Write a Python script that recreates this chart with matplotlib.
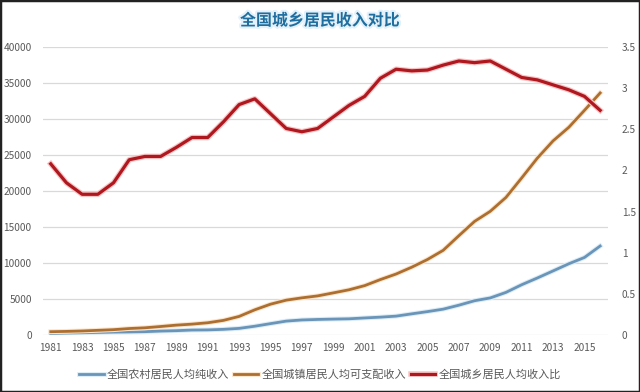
#!/usr/bin/env python3

import matplotlib
matplotlib.use("Agg")
from matplotlib import pyplot, ticker, patheffects, patches

pyplot.rcParams["font.family"] = ["Noto Sans CJK SC", "DejaVu Sans"]

# data
years = list(range(1981, 2017))
rural = [220, 270, 310, 355, 400, 425, 460, 545, 600, 690,
         710, 785, 920, 1220, 1580, 1930, 2090, 2160, 2210, 2250,
         2370, 2480, 2620, 2940, 3250, 3590, 4140, 4760, 5150, 5920,
         6980, 7920, 8900, 9890, 10770, 12360]
urban = [460, 500, 560, 650, 740, 900, 1000, 1180, 1370, 1510,
         1700, 2030, 2580, 3500, 4280, 4840, 5160, 5430, 5850, 6280,
         6860, 7700, 8470, 9420, 10490, 11760, 13790, 15780, 17180, 19110,
         21810, 24570, 26960, 28840, 31200, 33620]
ratio = [2.08, 1.85, 1.71, 1.71, 1.85, 2.13, 2.17, 2.17, 2.28, 2.40,
         2.40, 2.59, 2.80, 2.87, 2.69, 2.51, 2.47, 2.51, 2.65, 2.79,
         2.90, 3.12, 3.23, 3.21, 3.22, 3.28, 3.33, 3.31, 3.33, 3.23,
         3.13, 3.10, 3.04, 2.98, 2.90, 2.73]
names = ["全国农村居民人均纯收入", "全国城镇居民人均可支配收入", "全国城乡居民人均收入比"]

idx = list(range(len(years)))
grey = "#595959"

figure = pyplot.figure(figsize=(6.4, 3.92), dpi=100)
axis = figure.add_axes([0.067, 0.1454, 0.883, 0.7347])
axis2 = axis.twinx()

l1, = axis.plot(idx, rural, color="#6a95b8", lw=2.0)
l2, = axis.plot(idx, urban, color="#ad6f30", lw=2.0)
l3, = axis2.plot(idx, ratio, color="#b01820", lw=2.3,
                 path_effects=[patheffects.Stroke(linewidth=4, foreground="#f7c4c4"),
                               patheffects.Normal()])
for l, c in ((l1, "#dcedf7"), (l2, "#fbe5cd")):
    l.set_path_effects([patheffects.Stroke(linewidth=3.5, foreground=c),
                        patheffects.Normal()])

axis.set_xlim(-0.5, len(years) - 0.5)
axis.set_ylim(0, 40000)
axis2.set_ylim(0, 3.5)
axis.yaxis.set_major_locator(ticker.MultipleLocator(5000))
axis2.yaxis.set_major_locator(ticker.MultipleLocator(0.5))
axis2.yaxis.set_major_formatter(ticker.FuncFormatter(lambda v, p: f"{v:g}"))
axis.set_xticks(idx[::2])
axis.set_xticklabels([str(y) for y in years[::2]])

axis.grid(axis="y", color="#d9d9d9", lw=0.9)
axis.set_axisbelow(True)
for a in (axis, axis2):
    for s in a.spines.values():
        s.set_visible(False)
    a.tick_params(length=0, labelsize=7.3, colors=grey, pad=8)
axis.tick_params(axis="x", pad=6)
axis2.tick_params(pad=10)

figure.text(0.5, 0.948, "全国城乡居民收入对比", ha="center", va="center",
            fontsize=11.5, fontweight="bold", color="#1f6e9e",
            path_effects=[patheffects.withStroke(linewidth=3, foreground="#e2f1fb")])

figure.legend([l1, l2, l3], names, loc="center", bbox_to_anchor=(0.5, 0.045),
              ncol=3, frameon=False, fontsize=8, handlelength=2.2,
              handletextpad=0.3, columnspacing=0.4, labelcolor=grey)

figure.patches.append(patches.Rectangle((0, 0), 1, 1, transform=figure.transFigure,
                                        fill=False, edgecolor="#222222", lw=2.5))

pyplot.savefig("out.png", dpi=100)
